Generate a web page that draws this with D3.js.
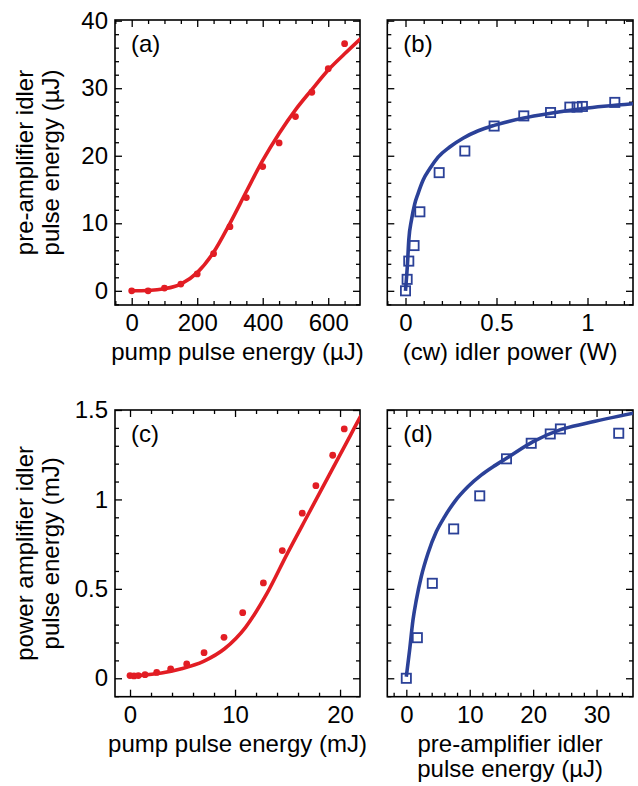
<!DOCTYPE html>
<html>
<head>
<meta charset="utf-8">
<script src="https://cdn.jsdelivr.net/npm/d3@7"></script>
<style>
    body { margin: 0; background: #fff; }
    text { font-family: "Liberation Sans", Arial, sans-serif; }
</style>
</head>
<body>
<script>
// (a) pre-amplifier idler energy vs pump energy (uJ)
const pumpA = [0, 50, 100, 150, 200, 250, 300, 350, 400, 450, 500, 550, 600, 650];
const idlerA = [0, 0, 0.4, 1.0, 2.5, 5.5, 9.5, 13.8, 18.4, 21.9, 25.8, 29.4, 32.9, 36.6];
const fitPumpA = [0, 50, 100, 150, 200, 250, 300, 350, 400, 450, 500, 550, 600, 650, 700];
const fitIdlerA = [0, 0.05, 0.3, 1.0, 2.7, 5.7, 10.0, 14.7, 19.3, 23.3, 26.8, 29.8, 32.7, 35.1, 37.4];

// (b) pre-amplifier idler energy vs cw idler power (W)
const cwB = [0, 0.009, 0.018, 0.047, 0.079, 0.185, 0.326, 0.487, 0.650, 0.797, 0.903, 0.943, 0.972, 1.150];
const idlerB = [0, 1.7, 4.4, 6.7, 11.7, 17.5, 20.7, 24.4, 25.9, 26.4, 27.2, 27.2, 27.3, 27.9];
const fitCwB = [0, 0.011, 0.018, 0.033, 0.051, 0.069, 0.097, 0.134, 0.179, 0.243, 0.316, 0.40, 0.487, 0.65, 0.797, 0.976, 1.25];
const fitIdlerB = [0, 4.05, 7.5, 10.5, 12.9, 14.4, 16.4, 18.1, 19.8, 21.3, 22.6, 23.7, 24.5, 25.6, 26.3, 27.0, 27.7];

// (c) power amplifier idler energy vs pump energy (mJ)
const pumpC = [0, 0.38, 0.79, 1.43, 2.54, 3.87, 5.4, 7.05, 8.95, 10.73, 12.7, 14.5, 16.4, 17.7, 19.3, 20.4];
const idlerC = [0.015, 0.013, 0.015, 0.02, 0.033, 0.052, 0.08, 0.143, 0.229, 0.367, 0.533, 0.714, 0.923, 1.077, 1.247, 1.394];
const fitPumpC = [0, 1, 3, 5, 7, 9, 11, 13, 15, 17, 19, 21, 22];
const fitIdlerC = [0.012, 0.016, 0.03, 0.055, 0.095, 0.165, 0.285, 0.47, 0.70, 0.92, 1.14, 1.36, 1.47];

// (d) power amplifier idler energy vs pre-amplifier idler energy (uJ)
const seedD = [0, 1.74, 4.1, 7.47, 11.58, 15.8, 19.7, 22.7, 24.3, 33.5];
const idlerD = [0, 0.227, 0.531, 0.835, 1.02, 1.227, 1.314, 1.366, 1.394, 1.37];
const fitSeedD = [0, 0.52, 1.05, 1.58, 2.36, 3.42, 4.74, 6.05, 7.63, 9.74, 11.85, 13.96, 15.8, 20.0, 24.2, 28.4, 35.8];
const fitIdlerD = [0.009, 0.158, 0.326, 0.438, 0.569, 0.699, 0.82, 0.904, 0.988, 1.072, 1.137, 1.189, 1.23, 1.323, 1.389, 1.426, 1.482];

// tick labels
const xMajorA = [0, 200, 400, 600];
const yMajorAB = [0, 10, 20, 30, 40];
const xMajorB = [0, 0.5, 1];
const xMajorC = [0, 10, 20];
const yMajorCD = [0, 0.5, 1, 1.5];
const xMajorD = [0, 10, 20, 30];

const red = "#e21d24";
const blue = "#2b4198";

function range(a, b, step) {
    const out = [];
    for (let v = a; v <= b + step / 1000; v += step) out.push(+v.toFixed(6));
    return out;
}

function main() {
    const svg = d3.select("body").append("svg")
        .attr("width", 638)
        .attr("height", 786);

    function panel(cfg) {
        const x = d3.scaleLinear().domain(cfg.xDomain).range([cfg.left, cfg.right]);
        const y = d3.scaleLinear().domain(cfg.yDomain).range([cfg.bottom, cfg.top]);
        const g = svg.append("g");
        const clipId = "clip-" + cfg.name;

        svg.append("clipPath").attr("id", clipId)
            .append("rect")
            .attr("x", cfg.left).attr("y", cfg.top)
            .attr("width", cfg.right - cfg.left).attr("height", cfg.bottom - cfg.top);

        const fmt = d => String(d);
        const minorX = cfg.xMinor.filter(v => cfg.xMajor.indexOf(v) < 0);
        const minorY = cfg.yMinor.filter(v => cfg.yMajor.indexOf(v) < 0);

        // ticks on all four sides, pointing inward
        const addAxis = (axis, tx, ty) => {
            const a = g.append("g")
                .attr("transform", "translate(" + tx + "," + ty + ")")
                .call(axis);
            a.select(".domain").remove();
            a.selectAll("line").attr("stroke", "#000").attr("stroke-width", 1.3);
            a.selectAll("text").attr("font-size", 24).attr("fill", "#000")
                .style("font-family", "'Liberation Sans', Arial, sans-serif");
            return a;
        };

        addAxis(d3.axisBottom(x).tickValues(cfg.xMajor).tickSize(-7).tickPadding(9)
            .tickFormat(cfg.xLabels ? fmt : ""), 0, cfg.bottom);
        addAxis(d3.axisBottom(x).tickValues(minorX).tickSize(-4).tickFormat(""), 0, cfg.bottom);
        addAxis(d3.axisTop(x).tickValues(cfg.xMajor).tickSize(-7).tickFormat(""), 0, cfg.top);
        addAxis(d3.axisTop(x).tickValues(minorX).tickSize(-4).tickFormat(""), 0, cfg.top);

        addAxis(d3.axisLeft(y).tickValues(cfg.yMajor).tickSize(-7).tickPadding(7)
            .tickFormat(cfg.yLabels ? fmt : ""), cfg.left, 0);
        addAxis(d3.axisLeft(y).tickValues(minorY).tickSize(-4).tickFormat(""), cfg.left, 0);
        addAxis(d3.axisRight(y).tickValues(cfg.yMajor).tickSize(-7).tickFormat(""), cfg.right, 0);
        addAxis(d3.axisRight(y).tickValues(minorY).tickSize(-4).tickFormat(""), cfg.right, 0);

        g.append("rect")
            .attr("x", cfg.left).attr("y", cfg.top)
            .attr("width", cfg.right - cfg.left).attr("height", cfg.bottom - cfg.top)
            .attr("fill", "none").attr("stroke", "#000").attr("stroke-width", 1.6);

        // fitted curve
        const line = d3.line()
            .x(d => x(d[0]))
            .y(d => y(d[1]))
            .curve(d3.curveMonotoneX);
        g.append("path")
            .datum(d3.zip(cfg.fitX, cfg.fitY))
            .attr("clip-path", "url(#" + clipId + ")")
            .attr("d", line)
            .attr("fill", "none")
            .attr("stroke", cfg.color)
            .attr("stroke-width", 3.6)
            .attr("stroke-linejoin", "round");

        // measured points
        const pts = d3.zip(cfg.dataX, cfg.dataY);
        if (cfg.marker === "dot") {
            g.selectAll(".dot-" + cfg.name)
                .data(pts)
                .enter()
                .append("circle")
                .attr("cx", d => x(d[0]))
                .attr("cy", d => y(d[1]))
                .attr("r", 3.4)
                .attr("fill", cfg.color);
        } else {
            g.selectAll(".sq-" + cfg.name)
                .data(pts)
                .enter()
                .append("rect")
                .attr("x", d => x(d[0]) - 4.6)
                .attr("y", d => y(d[1]) - 4.6)
                .attr("width", 9.2)
                .attr("height", 9.2)
                .attr("fill", "none")
                .attr("stroke", cfg.color)
                .attr("stroke-width", 1.8);
        }

        g.append("text")
            .attr("x", cfg.left + 16)
            .attr("y", cfg.top + 32)
            .attr("font-size", 24)
            .text(cfg.tag);

        // x title
        cfg.xTitle.forEach((t, i) => {
            g.append("text")
                .attr("x", (cfg.left + cfg.right) / 2)
                .attr("y", cfg.bottom + 55 + i * 25)
                .attr("text-anchor", "middle")
                .attr("font-size", 24)
                .text(t);
        });

        // y title
        if (cfg.yTitle) {
            cfg.yTitle.forEach((t, i) => {
                const cx = 33 + i * 26;
                const cy = (cfg.top + cfg.bottom) / 2;
                g.append("text")
                    .attr("transform", "translate(" + cx + "," + cy + ") rotate(-90)")
                    .attr("text-anchor", "middle")
                    .attr("font-size", 24)
                    .text(t);
            });
        }
    }

    panel({
        name: "a", tag: "(a)", color: red, marker: "dot",
        left: 115, right: 360, top: 20, bottom: 305,
        xDomain: [-51, 697], yDomain: [-2.1, 40.1],
        xMajor: xMajorA, xMinor: range(-50, 650, 50),
        yMajor: yMajorAB, yMinor: range(-2, 40, 2),
        xLabels: true, yLabels: true,
        dataX: pumpA, dataY: idlerA, fitX: fitPumpA, fitY: fitIdlerA,
        xTitle: ["pump pulse energy (\u00b5J)"],
        yTitle: ["pre-amplifier idler", "pulse energy (\u00b5J)"]
    });

    panel({
        name: "b", tag: "(b)", color: blue, marker: "square",
        left: 387.3, right: 633, top: 20, bottom: 305,
        xDomain: [-0.1, 1.25], yDomain: [-2.1, 40.1],
        xMajor: xMajorB, xMinor: range(-0.1, 1.2, 0.1),
        yMajor: yMajorAB, yMinor: range(-2, 40, 2),
        xLabels: true, yLabels: false,
        dataX: cwB, dataY: idlerB, fitX: fitCwB, fitY: fitIdlerB,
        xTitle: ["(cw) idler power (W)"]
    });

    panel({
        name: "c", tag: "(c)", color: red, marker: "dot",
        left: 115, right: 360, top: 410, bottom: 696.7,
        xDomain: [-1.43, 21.9], yDomain: [-0.103, 1.5],
        xMajor: xMajorC, xMinor: range(0, 20, 2),
        yMajor: yMajorCD, yMinor: range(-0.1, 1.5, 0.1),
        xLabels: true, yLabels: true,
        dataX: pumpC, dataY: idlerC, fitX: fitPumpC, fitY: fitIdlerC,
        xTitle: ["pump pulse energy (mJ)"],
        yTitle: ["power amplifier idler", "pulse energy (mJ)"]
    });

    panel({
        name: "d", tag: "(d)", color: blue, marker: "square",
        left: 387.3, right: 633, top: 410, bottom: 696.7,
        xDomain: [-3, 35.75], yDomain: [-0.103, 1.5],
        xMajor: xMajorD, xMinor: range(-2, 34, 2),
        yMajor: yMajorCD, yMinor: range(-0.1, 1.5, 0.1),
        xLabels: true, yLabels: false,
        dataX: seedD, dataY: idlerD, fitX: fitSeedD, fitY: fitIdlerD,
        xTitle: ["pre-amplifier idler", "pulse energy (\u00b5J)"]
    });
}
main();
</script>
</body>
</html>
